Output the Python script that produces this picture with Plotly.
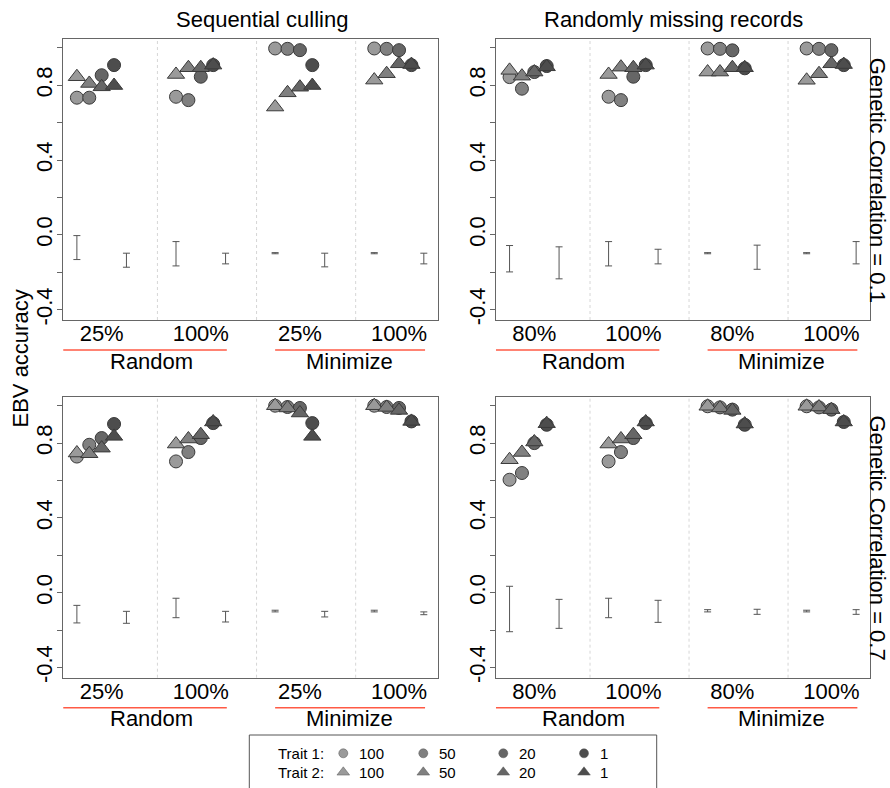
import plotly.graph_objects as go

# ---------------- data ----------------
levels = ["100", "50", "20", "1"]
level_colors = ["#9a9a9a", "#808080", "#666666", "#4d4d4d"]
col_titles = ["Sequential culling", "Randomly missing records"]
row_titles = ["Genetic Correlation = 0.1", "Genetic Correlation = 0.7"]
seq_ticks = ["25%", "100%", "25%", "100%"]
miss_ticks = ["80%", "100%", "80%", "100%"]
schemes = ["Random", "Minimize"]

# trait 1 (circles): 4 groups x 4 levels (100, 50, 20, 1)
seq01_t1 = [0.733, 0.733, 0.853, 0.907,
            0.738, 0.720, 0.845, 0.907,
            0.996, 0.994, 0.987, 0.907,
            0.996, 0.994, 0.987, 0.907]
seq01_t2 = [0.845, 0.809, 0.791, 0.798,
            0.857, 0.893, 0.893, 0.907,
            0.683, 0.759, 0.789, 0.798,
            0.827, 0.861, 0.914, 0.910]
seq01_lo = [-0.132, -0.173, -0.166, -0.155, -0.101, -0.171, -0.101, -0.155]
seq01_hi = [-0.004, -0.098, -0.036, -0.098, -0.095, -0.098, -0.095, -0.098]

miss01_t1 = [0.843, 0.781, 0.870, 0.902,
             0.738, 0.720, 0.845, 0.907,
             0.996, 0.994, 0.986, 0.890,
             0.996, 0.994, 0.987, 0.907]
miss01_t2 = [0.879, 0.848, 0.870, 0.898,
             0.857, 0.896, 0.893, 0.907,
             0.870, 0.870, 0.893, 0.893,
             0.826, 0.861, 0.914, 0.910]
miss01_lo = [-0.198, -0.235, -0.166, -0.155, -0.101, -0.184, -0.101, -0.155]
miss01_hi = [-0.057, -0.064, -0.036, -0.077, -0.095, -0.055, -0.095, -0.036]

seq07_t1 = [0.728, 0.791, 0.827, 0.902,
            0.702, 0.752, 0.827, 0.907,
            1.000, 0.993, 0.988, 0.907,
            1.000, 0.993, 0.988, 0.916]
seq07_t2 = [0.747, 0.743, 0.773, 0.836,
            0.795, 0.822, 0.845, 0.913,
            1.000, 0.988, 0.961, 0.836,
            1.000, 0.991, 0.975, 0.916]
seq07_lo = [-0.162, -0.164, -0.134, -0.157, -0.103, -0.130, -0.103, -0.118]
seq07_hi = [-0.068, -0.100, -0.030, -0.100, -0.094, -0.100, -0.094, -0.103]

miss07_t1 = [0.604, 0.640, 0.800, 0.898,
             0.702, 0.752, 0.827, 0.907,
             0.997, 0.991, 0.979, 0.898,
             0.997, 0.991, 0.979, 0.913]
miss07_t2 = [0.711, 0.750, 0.806, 0.904,
             0.795, 0.822, 0.845, 0.913,
             0.997, 0.988, 0.975, 0.902,
             0.997, 0.993, 0.979, 0.913]
miss07_lo = [-0.209, -0.191, -0.134, -0.159, -0.103, -0.116, -0.103, -0.116]
miss07_hi = [0.034, -0.036, -0.030, -0.041, -0.091, -0.089, -0.094, -0.091]

# ---------------- layout helpers ----------------
W, H = 890, 788
FONT = "Liberation Sans, Arial, sans-serif"

def px_x(p):
    return p / W

def px_y(p):
    return 1 - p / H

panels = [
    # (t1, t2, lo, hi, xticks, x-dom px, y-dom px)
    (seq01_t1, seq01_t2, seq01_lo, seq01_hi, seq_ticks, (63, 437.7), (39.3, 320)),
    (miss01_t1, miss01_t2, miss01_lo, miss01_hi, miss_ticks, (495.7, 870), (39.3, 320)),
    (seq07_t1, seq07_t2, seq07_lo, seq07_hi, seq_ticks, (63, 437.7), (397.3, 677.7)),
    (miss07_t1, miss07_t2, miss07_lo, miss07_hi, miss_ticks, (495.7, 870), (397.3, 677.7)),
]

XR = [-0.12, 30.12]
YR = [-0.455, 1.045]
ytv = [-0.4, -0.2, 0.0, 0.2, 0.4, 0.6, 0.8, 1.0]
ytt = ["-0.4", "", "0.0", "", "0.4", "", "0.8", ""]

fig = go.Figure()
layout = dict(
    template="none",
    width=W, height=H, margin=dict(l=0, r=0, t=0, b=0, pad=0),
    paper_bgcolor="white", plot_bgcolor="white",
    showlegend=False, font=dict(family=FONT, size=22, color="black"),
)
shapes = []
annotations = []

for i, (t1, t2, lo, hi, xt, xd, yd) in enumerate(panels):
    n = i + 1
    xa = "x" if n == 1 else f"x{n}"
    ya = "y" if n == 1 else f"y{n}"
    xkey = "xaxis" if n == 1 else f"xaxis{n}"
    ykey = "yaxis" if n == 1 else f"yaxis{n}"

    xs = [1 + 8 * g + l for g in range(4) for l in range(4)]
    cols = [level_colors[l] for g in range(4) for l in range(4)]
    ex = [1 + 4 * k for k in range(8)]
    mid = [(a + b) / 2 for a, b in zip(lo, hi)]

    # error bars
    fig.add_trace(go.Scatter(
        x=ex, y=mid, mode="markers", xaxis=xa, yaxis=ya,
        marker=dict(size=1, color="rgba(0,0,0,0)"),
        error_y=dict(type="data", symmetric=False,
                     array=[h - m for h, m in zip(hi, mid)],
                     arrayminus=[m - l_ for m, l_ in zip(mid, lo)],
                     color="#555555", thickness=1, width=3.5),
        hoverinfo="skip"))
    # trait 1 circles
    fig.add_trace(go.Scatter(
        x=xs, y=t1, mode="markers", xaxis=xa, yaxis=ya,
        marker=dict(symbol="circle", size=13, color=cols,
                    line=dict(color="#3a3a3a", width=1))))
    # trait 2 triangles
    fig.add_trace(go.Scatter(
        x=xs, y=t2, mode="markers", xaxis=xa, yaxis=ya,
        marker=dict(symbol="triangle-up", size=15, color=cols,
                    line=dict(color="#3a3a3a", width=1))))

    layout[xkey] = dict(
        domain=[px_x(xd[0]), px_x(xd[1])], range=XR, anchor=ya, automargin=False,
        showgrid=False, zeroline=False, showline=True, mirror=True,
        linecolor="#666666", linewidth=1,
        tickmode="array", tickvals=[3 + 8 * g for g in range(4)], ticktext=xt,
        ticks="", ticklabelstandoff=-6,
        tickfont=dict(size=22, family=FONT, color="black"))
    layout[ykey] = dict(
        domain=[px_y(yd[1]), px_y(yd[0])], range=YR, anchor=xa, automargin=False,
        showgrid=False, zeroline=False, showline=True, mirror=True,
        linecolor="#666666", linewidth=1,
        tickmode="array", tickvals=ytv, ticktext=ytt,
        ticks="outside", ticklen=5, tickcolor="#666666", tickangle=-90,
        ticklabelstandoff=-4,
        tickfont=dict(size=22, family=FONT, color="black"))

    # dotted group separators
    for s in range(3):
        sx = 7.5 + 8 * s
        shapes.append(dict(type="line", xref=xa, yref=f"{ya} domain",
                           x0=sx, x1=sx, y0=0, y1=1,
                           line=dict(color="#d6d6d6", width=1, dash="dot"),
                           layer="below"))
    # red scheme underline + scheme labels
    line_y = px_y(yd[1] + 30)
    text_y = px_y(yd[1] + 41)
    for (x0, x1), lab, cx in zip([(-0.1, 13.1), (17.0, 29.1)], schemes, [7, 23]):
        shapes.append(dict(type="line", xref=xa, yref="paper",
                           x0=x0, x1=x1, y0=line_y, y1=line_y,
                           line=dict(color="#ff5a45", width=1.5)))
        annotations.append(dict(text=lab, xref=xa, yref="paper", x=cx, y=text_y,
                                showarrow=False, xanchor="center", yanchor="middle",
                                font=dict(size=22, family=FONT, color="black")))

# column titles
for t, cx in zip(col_titles, [262, 673]):
    annotations.append(dict(text=t, xref="paper", yref="paper", x=px_x(cx), y=px_y(20),
                            showarrow=False, xanchor="center", yanchor="middle",
                            font=dict(size=22, family=FONT, color="black")))
# row strip labels
for t, cy in zip(row_titles, [179.7, 537.5]):
    annotations.append(dict(text=t, xref="paper", yref="paper", x=px_x(877), y=px_y(cy),
                            showarrow=False, xanchor="center", yanchor="middle", textangle=90,
                            font=dict(size=22, family=FONT, color="black")))
# y axis title
annotations.append(dict(text="EBV accuracy", xref="paper", yref="paper", x=px_x(20), y=px_y(358.5),
                        showarrow=False, xanchor="center", yanchor="middle", textangle=-90,
                        font=dict(size=22, family=FONT, color="black")))

# legend (markers on a small axis placed only over the legend box)
LX0, LX1, LY0 = 249.3, 656.7, 735
layout["xaxis5"] = dict(domain=[px_x(LX0), px_x(LX1)], range=[LX0, LX1], automargin=False,
                        visible=False, anchor="y5", fixedrange=True)
layout["yaxis5"] = dict(domain=[0, px_y(LY0)], range=[H, LY0], automargin=False,
                        visible=False, anchor="x5", fixedrange=True)
shapes.append(dict(type="rect", xref="paper", yref="paper",
                   x0=px_x(LX0), x1=px_x(LX1), y0=px_y(LY0), y1=-0.05,
                   line=dict(color="#555555", width=1), fillcolor="rgba(0,0,0,0)"))
leg_x = [343.3, 423.3, 503.3, 584]
leg_rows = [753.3, 772.3]
for r, (lab, sym, sz) in enumerate([("Trait 1:", "circle", 9), ("Trait 2:", "triangle-up", 11)]):
    annotations.append(dict(text=lab, xref="x5", yref="y5", x=326, y=leg_rows[r],
                            showarrow=False, xanchor="right", yanchor="middle",
                            font=dict(size=15, family=FONT, color="black")))
    fig.add_trace(go.Scatter(
        x=leg_x, y=[leg_rows[r]] * 4, mode="markers", xaxis="x5", yaxis="y5",
        marker=dict(symbol=sym, size=sz, color=level_colors,
                    line=dict(color="#555555", width=0.5)),
        cliponaxis=False, hoverinfo="skip"))
    for lx, lv in zip(leg_x, levels):
        annotations.append(dict(text=lv, xref="x5", yref="y5", x=lx + 14, y=leg_rows[r],
                                showarrow=False, xanchor="left", yanchor="middle",
                                font=dict(size=15, family=FONT, color="black")))

layout["shapes"] = shapes
layout["annotations"] = annotations
fig.update_layout(**layout)
fig.write_html("out.html", config={"displayModeBar": False},
               post_script="document.body.style.margin='0';document.body.style.padding='0';")
